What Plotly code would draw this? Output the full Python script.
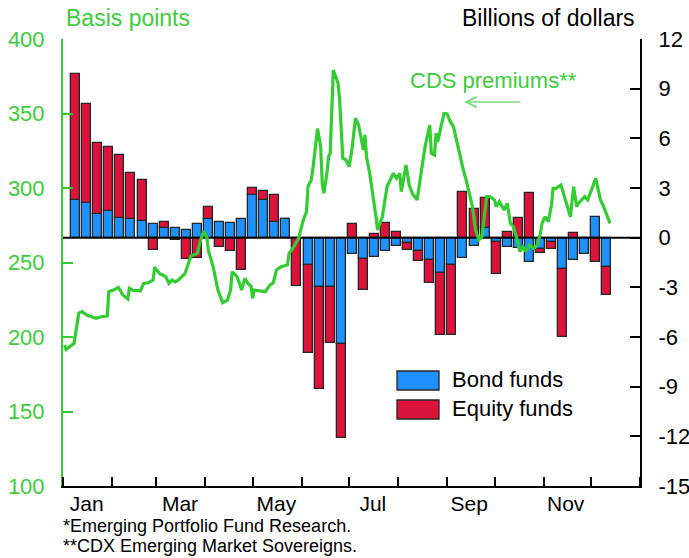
import plotly.graph_objects as go

# Weekly net flows into emerging-market funds (billions of dollars), week ending Wednesday
week_ending = [
    "2013-01-09", "2013-01-16", "2013-01-23", "2013-01-30",
    "2013-02-06", "2013-02-13", "2013-02-20", "2013-02-27",
    "2013-03-06", "2013-03-13", "2013-03-20", "2013-03-27",
    "2013-04-03", "2013-04-10", "2013-04-17", "2013-04-24",
    "2013-05-01", "2013-05-08", "2013-05-15", "2013-05-22", "2013-05-29",
    "2013-06-05", "2013-06-12", "2013-06-19", "2013-06-26",
    "2013-07-03", "2013-07-10", "2013-07-17", "2013-07-24", "2013-07-31",
    "2013-08-07", "2013-08-14", "2013-08-21", "2013-08-28",
    "2013-09-04", "2013-09-11", "2013-09-18", "2013-09-25",
    "2013-10-02", "2013-10-09", "2013-10-16", "2013-10-23", "2013-10-30",
    "2013-11-06", "2013-11-13", "2013-11-20", "2013-11-27",
    "2013-12-04", "2013-12-11",
]
bond_funds = [
    2.3, 2.1, 1.4, 1.6,
    1.2, 1.1, 1.0, 0.85,
    0.6, 0.6, 0.48, 0.8,
    1.15, 0.93, 0.87, 1.1,
    2.56, 2.28, 0.97, 1.15, 0.0,
    -1.65, -2.96, -2.96, -6.4,
    -1.0, -1.3, -1.15, -0.8, -0.5,
    -0.34, -0.8, -1.35, -2.15,
    -1.65, -1.25, -0.48, 0.57,
    -0.28, -0.58, -0.64, -1.49, -0.7,
    -0.24, -1.9, -1.35, -1.0,
    1.23, -1.75,
]
equity_funds = [
    7.6, 5.95, 4.3, 3.9,
    3.8, 2.8, 2.5, -0.75,
    0.37, -0.15, -1.3, -1.25,
    0.72, -0.55, -0.82, -1.95,
    0.46, 0.56, 1.59, 0.0, -2.9,
    -5.3, -6.2, -3.4, -5.7,
    0.8, -1.85, 0.2, 0.87, 0.33,
    -0.4, -0.6, -1.4, -3.7,
    -4.2, 2.78, 1.73, 1.85,
    -1.9, 0.36, 1.17, 2.72, -0.2,
    -0.46, -4.1, 0.27, 0.0,
    -1.45, -1.7,
]

# CDX Emerging Market Sovereigns premiums (basis points)
cds_dates = [
    "2013-01-02", "2013-01-03", "2013-01-08", "2013-01-11", "2013-01-13",
    "2013-01-16", "2013-01-19", "2013-01-22", "2013-01-25", "2013-01-29",
    "2013-01-30", "2013-02-02", "2013-02-05", "2013-02-08", "2013-02-11",
    "2013-02-12", "2013-02-14", "2013-02-19", "2013-02-21", "2013-02-24",
    "2013-02-27", "2013-02-28", "2013-03-03", "2013-03-07", "2013-03-09",
    "2013-03-11", "2013-03-13", "2013-03-15", "2013-03-17", "2013-03-19",
    "2013-03-21", "2013-03-23", "2013-03-27", "2013-03-29", "2013-03-31",
    "2013-04-02", "2013-04-03", "2013-04-06", "2013-04-09", "2013-04-12",
    "2013-04-15", "2013-04-17", "2013-04-18", "2013-04-21", "2013-04-23",
    "2013-04-24", "2013-04-26", "2013-04-28", "2013-04-30", "2013-05-01",
    "2013-05-02", "2013-05-06", "2013-05-09", "2013-05-12", "2013-05-14",
    "2013-05-16", "2013-05-19", "2013-05-23", "2013-05-24", "2013-05-27",
    "2013-05-30", "2013-06-02", "2013-06-04", "2013-06-05", "2013-06-07",
    "2013-06-08", "2013-06-11", "2013-06-13", "2013-06-14", "2013-06-15",
    "2013-06-17", "2013-06-18", "2013-06-19", "2013-06-21", "2013-06-24",
    "2013-06-25", "2013-06-27", "2013-06-29", "2013-07-01", "2013-07-03",
    "2013-07-05", "2013-07-07", "2013-07-08", "2013-07-10", "2013-07-11",
    "2013-07-12", "2013-07-14", "2013-07-16", "2013-07-18", "2013-07-19",
    "2013-07-22", "2013-07-25", "2013-07-29", "2013-07-31", "2013-08-02",
    "2013-08-03", "2013-08-06", "2013-08-08", "2013-08-10", "2013-08-13",
    "2013-08-15", "2013-08-18", "2013-08-21", "2013-08-22", "2013-08-24",
    "2013-08-25", "2013-08-26", "2013-08-29", "2013-08-30", "2013-09-01",
    "2013-09-03", "2013-09-05", "2013-09-07", "2013-09-09", "2013-09-11",
    "2013-09-13", "2013-09-15", "2013-09-17", "2013-09-19", "2013-09-21",
    "2013-09-23", "2013-09-26", "2013-09-28", "2013-10-01", "2013-10-02",
    "2013-10-04", "2013-10-07", "2013-10-09", "2013-10-11", "2013-10-13",
    "2013-10-15", "2013-10-17", "2013-10-19", "2013-10-21", "2013-10-23",
    "2013-10-26", "2013-10-28", "2013-10-30", "2013-10-31", "2013-11-02",
    "2013-11-04", "2013-11-06", "2013-11-07", "2013-11-09", "2013-11-12",
    "2013-11-15", "2013-11-18", "2013-11-20", "2013-11-22", "2013-11-23",
    "2013-11-27", "2013-11-29", "2013-12-04", "2013-12-07", "2013-12-09",
    "2013-12-13",
]
cds_bp = [
    194.6, 191.7, 195.8, 216.0, 217.0,
    214.8, 213.6, 212.5, 213.6, 214.0,
    230.4, 231.5, 233.3, 228.0, 225.5,
    232.7, 231.5, 231.0, 236.0, 236.4,
    238.2, 246.8, 242.7, 240.5, 236.0,
    238.2, 237.0, 238.2, 240.5, 242.3,
    248.3, 254.4, 256.2, 265.0, 271.0,
    267.0, 258.0, 247.0, 231.5, 223.0,
    224.8, 231.5, 243.8, 240.5, 235.0,
    231.5, 239.4, 236.0, 234.0, 226.0,
    231.5, 231.0, 230.4, 235.0, 236.4,
    245.0, 247.2, 248.3, 256.0, 260.6,
    266.2, 278.5, 284.0, 301.0, 305.4,
    312.0, 340.0, 327.7, 303.0, 296.4,
    310.0, 321.0, 323.3, 379.2, 370.3,
    359.0, 320.0, 318.8, 314.3, 327.7,
    346.8, 342.3, 336.7, 325.5, 335.6,
    321.0, 309.9, 296.4, 280.7, 271.8,
    280.7, 301.0, 309.9, 306.5, 309.9,
    297.5, 315.4, 302.0, 296.4, 292.0,
    307.6, 327.7, 342.3, 323.3, 322.1,
    336.7, 331.0, 344.5, 350.0, 349.7,
    344.5, 341.2, 331.0, 321.0, 313.2,
    305.4, 296.4, 287.5, 271.8, 265.1,
    267.3, 294.2, 294.2, 292.0, 287.5,
    290.9, 285.2, 289.7, 276.3, 274.0,
    266.4, 257.3, 260.6, 257.3, 261.7,
    259.5, 261.7, 269.5, 276.3, 280.7,
    277.4, 288.6, 299.8, 299.8, 302.0,
    292.0, 280.7, 300.9, 287.5, 289.7,
    294.2, 292.0, 306.5, 292.0, 287.5,
    276.3,
]

# Axis ticks and labels
bp_ticks = [100, 150, 200, 250, 300, 350, 400]
flow_ticks = [-15, -12, -9, -6, -3, 0, 3, 6, 9, 12]
flow_tick_labels = ["-15", "-12", "-9", "-6", "-3", "0", "3", "6", "9", "12"]
month_label_dates = ["2013-01-16", "2013-03-16", "2013-05-16",
                     "2013-07-16", "2013-09-15", "2013-11-15"]
month_labels = ["Jan", "Mar", "May", "Jul", "Sep", "Nov"]
x_start, x_end = "2013-01-01", "2014-01-01"

GREEN = "#33cc33"
GREEN_TEXT = "#3ccc3c"
BLUE = "#1e90ff"
RED = "#dc143c"
FONT = "Liberation Sans, Arial, sans-serif"

W, H = 689, 558
ML, MR, MT, MB = 63, 49, 39, 72
PW, PH = W - ML - MR, H - MT - MB


def px_x(px):
    return (px - ML) / PW


def px_y(py):
    return (H - MB - py) / PH


bar_width_ms = 7 * 0.81 * 24 * 3600 * 1000

fig = go.Figure()

fig.add_trace(go.Bar(
    x=week_ending, y=bond_funds, name="Bond funds",
    width=bar_width_ms, yaxis="y", xaxis="x",
    marker=dict(color=BLUE, line=dict(color="#262626", width=1.3)),
    showlegend=False,
))
fig.add_trace(go.Bar(
    x=week_ending, y=equity_funds, name="Equity funds",
    width=bar_width_ms, yaxis="y", xaxis="x",
    marker=dict(color=RED, line=dict(color="#262626", width=1.3)),
    showlegend=False,
))
# zero reference line for flows, across the full date range
fig.add_trace(go.Scatter(
    x=[x_start, x_end], y=[0, 0], mode="lines",
    line=dict(color="black", width=2), yaxis="y", xaxis="x",
    showlegend=False, hoverinfo="skip",
))
fig.add_trace(go.Scatter(
    x=cds_dates, y=cds_bp, mode="lines", name="CDS premiums",
    line=dict(color=GREEN, width=3.2), yaxis="y2", xaxis="x",
    showlegend=False,
))

fig.update_layout(
    width=W, height=H,
    margin=dict(l=ML, r=MR, t=MT, b=MB, pad=0, autoexpand=False),
    paper_bgcolor="white", plot_bgcolor="white",
    font=dict(family=FONT, size=22, color="black"),
    barmode="relative", bargap=0,
    showlegend=False,
    xaxis=dict(
        type="date", range=[x_start, x_end], automargin=False,
        tickmode="array", tickvals=month_label_dates, ticktext=month_labels,
        ticks="", showgrid=False, zeroline=False,
        showline=True, linecolor="black", linewidth=2,
        tickfont=dict(size=21, color="black"),
        ticklabelstandoff=-2,
        minor=dict(ticks="inside", ticklen=9, tickwidth=1.5, tickcolor="black",
                   dtick="M1", tick0=x_start, showgrid=False),
    ),
    yaxis=dict(
        range=[-15, 12], side="right", automargin=False,
        tickmode="array", tickvals=flow_ticks, ticktext=flow_tick_labels,
        ticks="inside", ticklen=10, tickwidth=1.5, tickcolor="black",
        showline=True, linecolor="black", linewidth=2,
        showgrid=False, zeroline=False,
        tickfont=dict(size=22, color="black"),
        ticklabelstandoff=12,
    ),
    yaxis2=dict(
        range=[100, 400], side="left", overlaying="y", automargin=False,
        tickmode="array", tickvals=bp_ticks,
        ticks="inside", ticklen=10, tickwidth=1.5, tickcolor=GREEN,
        showline=True, linecolor=GREEN, linewidth=2,
        showgrid=False, zeroline=False,
        tickfont=dict(size=22, color=GREEN_TEXT),
        ticklabelstandoff=12,
    ),
)

annotations = [
    dict(text="Basis points", x=px_x(64), y=px_y(18), xanchor="left", yanchor="middle",
         font=dict(size=23, color=GREEN_TEXT)),
    dict(text="Billions of dollars", x=px_x(637), y=px_y(18), xanchor="right", yanchor="middle",
         font=dict(size=23, color="black")),
    dict(text="CDS premiums**", x=px_x(493), y=px_y(81), xanchor="center", yanchor="middle",
         font=dict(size=22, color=GREEN_TEXT)),
    dict(text="", x=px_x(464), y=px_y(102), ax=58, ay=0, showarrow=True,
         arrowhead=5, arrowsize=1.3, arrowwidth=1.6, arrowcolor="#7fdc7f"),
    dict(text="Bond funds", x=px_x(450), y=px_y(379), xanchor="left", yanchor="middle",
         font=dict(size=22, color="black")),
    dict(text="Equity funds", x=px_x(450), y=px_y(408), xanchor="left", yanchor="middle",
         font=dict(size=22, color="black")),
    dict(text="*Emerging Portfolio Fund Research.", x=px_x(61), y=px_y(526),
         xanchor="left", yanchor="middle", font=dict(size=18, color="black")),
    dict(text="**CDX Emerging Market Sovereigns.", x=px_x(61), y=px_y(546),
         xanchor="left", yanchor="middle", font=dict(size=18, color="black")),
]
for a in annotations:
    a.setdefault("xref", "paper")
    a.setdefault("yref", "paper")
    a.setdefault("showarrow", False)
fig.update_layout(annotations=annotations)

# legend swatches
fig.update_layout(shapes=[
    dict(type="rect", xref="paper", yref="paper",
         x0=px_x(397), x1=px_x(439), y0=px_y(390), y1=px_y(371),
         fillcolor=BLUE, line=dict(color="#262626", width=1.3)),
    dict(type="rect", xref="paper", yref="paper",
         x0=px_x(397), x1=px_x(439), y0=px_y(419), y1=px_y(400),
         fillcolor=RED, line=dict(color="#262626", width=1.3)),
])

fig.write_html("out.html")
